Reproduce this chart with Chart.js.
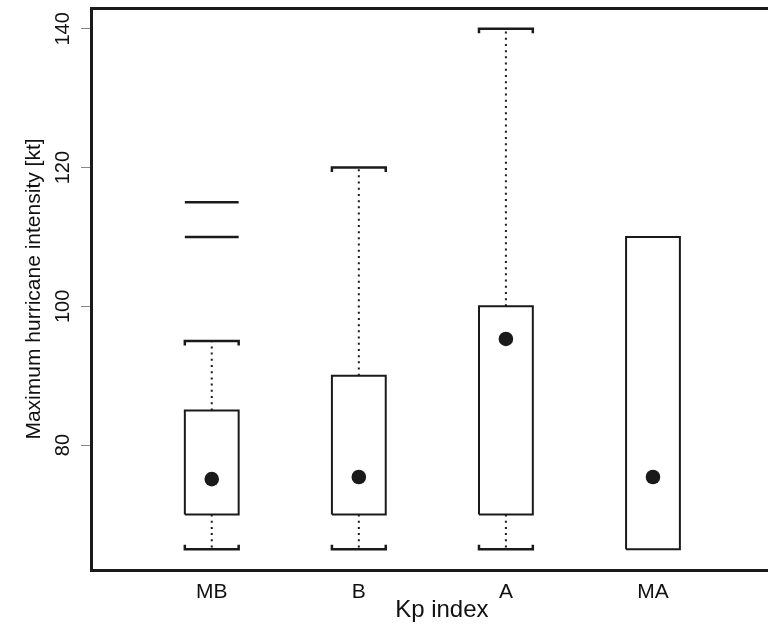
<!DOCTYPE html>
<html>
<head>
<meta charset="utf-8">
<script src="https://cdn.jsdelivr.net/npm/chart.js@4/dist/chart.umd.min.js"></script>
<style>
  html, body { margin: 0; padding: 0; background: #fff; overflow: hidden; }
  #wrap { width: 768px; height: 632px; overflow: hidden; }
</style>
</head>
<body>
<div id="wrap"><canvas id="chart" width="800" height="632"></canvas></div>
<script>
// values
const categories = ['MB', 'B', 'A', 'MA'];
const whiskerLow = [65, 65, 65, null];
const boxLow = [70, 70, 70, 65];
const boxHigh = [85, 90, 100, 110];
const whiskerHigh = [95, 120, 140, null];
const means = [75.1, 75.4, 95.3, 75.4];
const outliers = [[110, 115], [], [], []];
const yTicks = [80, 100, 120, 140];

const ink = '#1a1a1a';
const textInk = '#111';
const font = "'Liberation Sans', Arial, Helvetica, sans-serif";
const halfW = 0.183;   // half box width, in x units
const capTick = 0.65;  // little end hooks on the caps, in y units

function line(points, width, dash) {
  return {
    type: 'line',
    data: points,
    showLine: true,
    borderColor: ink,
    borderWidth: width,
    borderDash: dash || [],
    borderCapStyle: 'butt',
    pointRadius: 0,
    fill: false,
    tension: 0
  };
}

const datasets = [];
categories.forEach((c, i) => {
  const x = i + 1;
  const lo = boxLow[i], hi = boxHigh[i];
  // box
  datasets.push(line([
    {x: x - halfW, y: lo}, {x: x + halfW, y: lo}, {x: x + halfW, y: hi},
    {x: x - halfW, y: hi}, {x: x - halfW, y: lo}
  ], 2));
  // whiskers + caps
  if (whiskerHigh[i] != null) {
    datasets.push(line([{x: x, y: hi}, {x: x, y: whiskerHigh[i]}], 2, [2, 4.2]));
    const t = whiskerHigh[i];
    datasets.push(line([
      {x: x - halfW, y: t - capTick}, {x: x - halfW, y: t},
      {x: x + halfW, y: t}, {x: x + halfW, y: t - capTick}
    ], 2.5));
  }
  if (whiskerLow[i] != null) {
    datasets.push(line([{x: x, y: lo}, {x: x, y: whiskerLow[i]}], 2, [2, 4.2]));
    const b = whiskerLow[i];
    datasets.push(line([
      {x: x - halfW, y: b + capTick}, {x: x - halfW, y: b},
      {x: x + halfW, y: b}, {x: x + halfW, y: b + capTick}
    ], 2.5));
  }
  // outliers drawn as short bars
  outliers[i].forEach(v => {
    datasets.push(line([{x: x - halfW, y: v}, {x: x + halfW, y: v}], 2.5));
  });
});
// mean dots
datasets.push({
  type: 'scatter',
  data: means.map((m, i) => ({x: i + 1, y: m})),
  pointRadius: 7.3,
  pointBackgroundColor: ink,
  pointBorderWidth: 0
});

new Chart(document.getElementById('chart'), {
  type: 'scatter',
  data: { datasets: datasets },
  options: {
    responsive: false,
    animation: false,
    layout: { padding: { left: 0, right: 3, top: 0, bottom: 0 } },
    plugins: { legend: { display: false }, tooltip: { enabled: false } },
    scales: {
      x: {
        type: 'linear',
        bounds: 'data',
        min: 0.179,
        max: 4.95,
        afterBuildTicks: s => { s.ticks = categories.map((c, i) => ({ value: i + 1 })); },
        afterFit: s => { s.height = 62; s.paddingLeft = 0; s.paddingRight = 0; },
        grid: { display: false },
        border: { display: true, color: ink, width: 3 },
        ticks: {
          autoSkip: false,
          maxRotation: 0,
          padding: 2,
          color: textInk,
          font: { family: font, size: 21 },
          callback: v => categories[v - 1]
        },
        title: {
          display: true,
          text: 'Kp index',
          color: textInk,
          font: { family: font, size: 24 },
          padding: { top: 0, bottom: 7 }
        }
      },
      x2: {
        type: 'linear',
        axis: 'x',
        position: 'top',
        afterFit: s => { s.height = 8; s.paddingLeft = 0; s.paddingRight = 0; },
        grid: { display: false },
        border: { display: true, color: ink, width: 3 },
        ticks: { display: false }
      },
      y: {
        type: 'linear',
        bounds: 'data',
        min: 62,
        max: 143,
        afterBuildTicks: s => { s.ticks = yTicks.map(v => ({ value: v })); },
        afterFit: s => { s.width = 91; s.paddingTop = 0; s.paddingBottom = 0; },
        grid: {
          display: true,
          drawOnChartArea: false,
          drawTicks: true,
          tickLength: 10,
          tickColor: '#888',
          tickWidth: 1
        },
        border: { display: true, color: ink, width: 3 },
        ticks: {
          minRotation: 90,
          maxRotation: 90,
          crossAlign: 'center',
          padding: 1.3,
          color: textInk,
          font: { family: font, size: 20 }
        },
        title: {
          display: true,
          text: 'Maximum hurricane intensity [kt]',
          color: textInk,
          font: { family: font, size: 21 },
          padding: { top: 22, bottom: 0 }
        }
      }
    }
  }
});
</script>
</body>
</html>
